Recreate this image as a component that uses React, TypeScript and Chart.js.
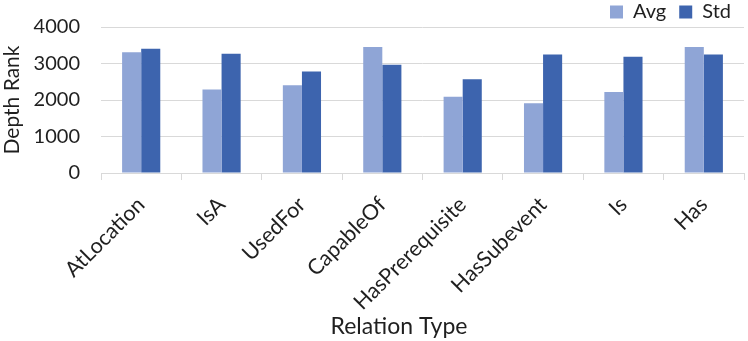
import React, { useEffect, useRef } from "react";
import { Chart, registerables } from "chart.js";

Chart.register(...registerables);

const categories = ["AtLocation", "IsA", "UsedFor", "CapableOf", "HasPrerequisite", "HasSubevent", "Is", "Has"];
const avgValues = [3305, 2290, 2405, 3450, 2090, 1910, 2220, 3450];
const stdValues = [3405, 3265, 2780, 2965, 2570, 3250, 3185, 3250];
const seriesNames = ["Avg", "Std"];
const yMax = 4000;
const yStep = 1000;

const FONT = "Lato, 'Open Sans', sans-serif";
const TEXT = "#1f1f1f";
const GRID = "#d9d9d9";

// move the legend row up inside its band (keep its clip bottom)
const legendShift = {
  id: "legendShift",
  afterLayout(chart: any) {
    const lg = chart.legend;
    if (lg) {
      lg.top = -11;
    }
  },
};

export default function App() {
  const ref = useRef<HTMLCanvasElement | null>(null);

  useEffect(() => {
    if (!ref.current) return;
    const chart = new Chart(ref.current, {
      type: "bar",
      data: {
        labels: categories,
        datasets: [
          {
            label: seriesNames[0],
            data: avgValues,
            backgroundColor: "#8fa5d6",
            borderWidth: 0,
            categoryPercentage: 0.475,
            barPercentage: 1,
          },
          {
            label: seriesNames[1],
            data: stdValues,
            backgroundColor: "#3d64ae",
            borderWidth: 0,
            categoryPercentage: 0.475,
            barPercentage: 1,
          },
        ],
      },
      plugins: [legendShift],
      options: {
        responsive: false,
        animation: false,
        layout: { padding: { top: 0, right: 4, left: 0, bottom: 0 } },
        plugins: {
          tooltip: { enabled: false },
          legend: {
            position: "top",
            align: "end",
            maxHeight: 27,
            labels: {
              boxWidth: 13,
              boxHeight: 13,
              padding: 13,
              color: TEXT,
              font: { family: FONT, size: 20 },
            },
          },
        },
        scales: {
          x: {
            offset: true,
            grid: {
              offset: true,
              drawOnChartArea: false,
              drawTicks: true,
              tickLength: 7,
              color: GRID,
            },
            border: { display: true, color: GRID },
            ticks: {
              autoSkip: false,
              minRotation: 45,
              maxRotation: 45,
              padding: 12,
              color: TEXT,
              font: { family: FONT, size: 21.5 },
            },
            title: {
              display: true,
              text: "Relation Type        ",
              color: TEXT,
              font: { family: FONT, size: 23 },
              padding: { top: 0, bottom: 1 },
            },
            afterFit: (scale: any) => {
              scale.height = 168;
            },
          },
          y: {
            min: 0,
            max: yMax,
            ticks: {
              stepSize: yStep,
              padding: 21,
              color: TEXT,
              font: { family: FONT, size: 20 },
              callback: (v: any) => String(v),
            },
            grid: { color: GRID, drawTicks: false },
            border: { display: false },
            title: {
              display: true,
              text: "Depth Rank",
              color: TEXT,
              font: { family: FONT, size: 21 },
              padding: { top: 0, bottom: 0 },
            },
            afterFit: (scale: any) => {
              scale.width = 101;
              scale.paddingTop = 0;
              scale.paddingBottom = 0;
            },
          },
        },
      },
    });
    return () => chart.destroy();
  }, []);

  return (
    <div style={{ position: "fixed", left: 0, top: 0, width: 748, height: 341, background: "#fff" }}>
      <canvas ref={ref} width={748} height={341} style={{ width: 748, height: 341 }} />
    </div>
  );
}
